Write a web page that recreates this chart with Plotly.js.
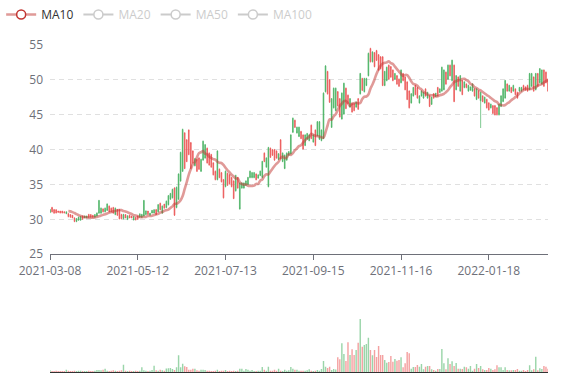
<!DOCTYPE html>
<html>
<head>
<meta charset="utf-8">
<script src="https://cdn.plot.ly/plotly-3.0.1.min.js"></script>
<style>
html,body{margin:0;padding:0;background:#fff;}
#chart{width:577px;height:380px;}
</style>
</head>
<body>
<div id="chart"></div>
<script>
// ---- data ----
const startDate = '2021-03-08';
const closedDays = ['2021-04-05','2021-05-03','2021-05-04','2021-05-05','2021-06-14',
  '2021-07-29','2021-08-19','2021-09-03','2021-10-01','2021-12-24','2022-01-03'];
const tickLabels = ['2021-03-08','2021-05-12','2021-07-13','2021-09-15','2021-11-16','2022-01-18'];
const legendNames = ['MA10','MA20','MA50','MA100'];

const openPrices = [
31.4,31.1,30.9,30.9,31.0,30.9,30.9,30.9,31.1,30.4,
30.3,30.2,29.7,30.1,30.3,30.4,30.0,30.5,30.5,30.3,
30.3,30.3,30.7,30.9,32.7,31.6,31.1,31.6,32.2,31.1,
31.1,30.9,31.6,30.6,30.1,30.1,30.7,30.2,30.5,30.2,
30.2,30.4,29.9,30.0,30.8,30.7,32.7,31.2,30.7,30.9,
31.3,31.4,30.7,32.1,31.4,31.9,31.6,32.6,33.4,33.7,
34.3,30.6,34.6,36.5,39.6,42.9,37.3,38.3,39.3,37.3,
38.1,38.7,36.9,37.2,38.6,41.2,40.7,38.1,37.8,37.5,
36.4,35.7,39.8,36.0,35.4,33.1,36.9,34.9,35.1,34.7,
33.0,36.3,34.5,35.2,35.2,35.2,35.5,36.0,36.9,36.7,
36.7,35.7,36.4,36.9,38.3,38.3,38.8,40.3,38.9,39.2,
38.5,38.8,39.4,38.7,39.5,39.2,39.5,39.7,42.1,44.5,
43.2,43.2,43.2,41.6,40.1,42.1,42.3,42.1,41.6,42.1,
40.6,44.0,44.0,42.8,48.1,52.0,48.0,46.8,47.3,48.8,
48.8,46.3,44.7,48.1,49.5,45.9,46.6,47.3,45.4,45.6,
46.8,45.8,50.9,48.5,50.2,50.2,53.8,52.6,54.0,51.9,
52.8,51.4,51.6,49.2,51.2,51.8,50.1,50.4,49.9,50.9,
49.4,49.1,51.4,49.9,48.6,47.2,46.0,48.0,48.9,47.9,
47.4,47.7,48.4,48.2,47.7,48.2,46.2,47.5,47.4,48.1,
47.7,48.7,51.8,51.4,49.4,52.1,50.6,52.8,46.9,50.6,
49.1,50.6,47.9,49.7,48.9,49.2,49.0,49.4,47.7,48.7,
47.4,48.2,46.9,47.5,46.0,45.7,46.5,45.2,45.0,45.0,
46.5,47.7,48.7,49.9,48.4,49.2,48.2,49.2,47.9,47.4,
48.9,48.9,48.6,48.5,48.4,50.9,50.9,48.4,50.9,49.1,
51.6,51.4,49.1,49.6,48.4];

const highPrices = [
31.5,31.8,31.5,31.4,31.2,31.2,31.2,31.1,31.1,30.9,
30.7,30.6,30.3,30.2,30.4,30.5,30.5,30.5,30.5,30.8,
30.7,30.6,30.7,31.0,32.8,31.7,31.6,31.7,32.3,32.0,
31.7,31.8,31.7,31.5,31.5,30.8,30.8,30.7,30.6,30.6,
30.5,30.4,30.3,30.5,30.8,30.8,32.8,31.3,31.2,30.9,
31.3,31.4,31.5,32.2,32.4,32.0,32.2,32.7,33.5,33.8,
34.4,34.6,34.7,36.6,39.7,43.0,42.5,41.5,42.9,41.1,
39.9,38.8,38.7,38.9,38.7,41.3,40.8,40.3,39.6,39.4,
38.2,37.0,39.9,37.3,36.8,35.8,37.0,36.7,36.5,36.1,
35.6,36.4,36.1,35.3,35.3,35.3,35.6,36.1,37.0,36.8,
36.8,36.6,36.4,37.0,38.4,39.6,38.9,40.4,40.3,40.1,
40.1,39.9,39.5,41.5,39.6,39.3,39.6,39.8,42.2,44.6,
44.3,43.3,43.3,42.7,42.2,42.2,42.4,42.2,43.6,42.2,
42.9,44.1,44.1,42.9,48.2,52.1,51.3,50.1,47.4,48.9,
48.9,48.4,47.4,48.2,49.6,48.9,47.9,47.4,46.7,46.7,
46.9,47.4,51.0,50.3,50.3,50.3,53.9,54.6,54.1,54.0,
54.3,53.7,53.4,53.4,51.3,51.9,52.2,52.0,51.5,51.0,
50.7,50.2,51.5,51.0,50.5,49.8,48.5,48.1,49.0,49.3,
49.0,47.8,48.5,48.3,48.8,48.3,47.8,47.6,48.1,48.1,
49.0,48.8,51.9,51.5,51.2,52.2,52.2,52.9,52.2,50.7,
50.5,50.7,50.0,49.8,49.5,49.3,49.0,49.5,48.8,48.8,
48.5,48.3,47.8,47.6,47.3,46.8,46.6,46.4,46.4,46.1,
46.6,47.8,48.8,50.0,49.5,49.3,49.0,49.3,48.8,48.3,
49.0,49.0,49.3,49.0,49.3,51.0,51.0,50.5,51.0,51.0,
51.7,51.5,51.5,51.2,50.2];

const lowPrices = [
30.9,31.0,30.8,30.9,31.0,30.9,30.9,30.9,30.8,30.3,
30.3,30.2,29.6,29.6,29.8,29.8,30.0,30.2,30.2,30.2,
30.3,30.3,30.3,30.4,30.8,30.8,31.0,31.0,31.2,31.0,
31.0,30.8,30.6,30.5,30.0,30.0,30.0,30.2,29.9,30.2,
30.2,29.9,29.9,30.0,30.3,30.2,30.4,30.6,30.7,30.6,
30.9,30.9,30.6,31.0,31.3,30.8,31.6,31.6,32.0,32.8,
33.0,30.5,31.6,32.8,35.4,36.8,37.2,38.2,39.2,37.2,
38.0,37.6,36.8,37.1,36.8,38.4,38.7,38.0,37.7,37.4,
36.3,35.6,35.6,35.9,35.3,33.0,34.6,34.8,35.0,34.6,
32.9,34.0,34.4,31.4,34.4,34.4,34.8,34.9,35.9,35.9,
35.9,35.6,35.9,36.2,35.9,38.2,37.4,34.6,38.8,39.1,
38.4,38.7,38.5,38.6,38.2,37.2,38.4,39.1,39.3,42.4,
43.1,42.3,41.8,41.5,40.0,40.5,41.4,41.2,41.5,41.0,
40.5,41.9,41.4,41.2,41.5,48.2,47.9,46.7,43.1,45.9,
45.5,46.2,44.6,44.3,45.0,45.8,46.5,46.0,45.3,45.5,
46.0,45.7,47.9,48.4,48.2,49.1,50.5,52.5,52.5,51.8,
52.7,51.3,51.5,49.1,49.1,49.8,50.0,50.3,49.8,50.0,
49.3,49.0,49.5,49.8,48.5,47.1,45.9,46.6,47.6,47.8,
47.3,46.6,47.6,47.3,47.6,47.3,46.1,46.4,47.3,47.6,
47.6,48.1,48.3,48.5,49.3,50.0,50.5,49.8,46.8,48.5,
49.0,48.3,47.8,48.8,48.8,48.3,48.5,48.3,47.6,47.1,
47.3,43.1,46.8,46.6,45.9,45.6,45.9,45.1,44.9,44.9,
44.9,46.1,46.8,47.3,48.3,48.3,48.1,48.3,47.8,47.3,
48.3,48.3,48.5,48.5,48.3,48.5,49.0,48.3,48.5,49.0,
49.5,49.3,49.0,49.5,48.3];

const closePrices = [
31.0,31.7,31.4,31.4,31.2,31.2,31.2,31.1,30.8,30.8,
30.7,30.6,30.2,29.7,29.9,29.9,30.5,30.2,30.2,30.7,
30.7,30.6,30.3,30.5,30.9,30.9,31.5,31.1,31.3,31.9,
31.6,31.7,30.7,31.4,31.4,30.7,30.1,30.7,30.0,30.6,
30.5,29.9,30.3,30.5,30.3,30.3,30.5,30.7,31.2,30.6,
30.9,30.9,31.4,31.1,32.3,30.9,32.2,31.7,32.1,32.9,
33.1,34.5,31.7,32.9,35.5,36.9,42.4,41.4,42.8,41.0,
39.8,37.7,38.6,38.8,36.9,38.5,38.8,40.2,39.5,39.3,
38.1,36.9,35.7,37.2,36.7,35.7,34.7,36.6,36.4,36.0,
35.5,34.1,36.0,31.5,34.5,34.5,34.9,35.0,36.0,36.0,
36.0,36.5,35.9,36.3,36.0,39.5,37.5,34.7,40.2,40.0,
40.0,39.8,38.6,41.4,38.3,37.3,38.5,39.2,39.4,42.5,
44.2,42.4,41.9,42.6,42.1,40.6,41.5,41.3,43.5,41.1,
42.8,42.0,41.5,41.3,41.6,48.3,51.2,50.0,43.2,46.0,
45.6,48.3,47.3,44.4,45.1,48.8,47.8,46.1,46.6,46.6,
46.1,47.3,48.0,50.2,48.3,49.2,50.6,54.5,52.6,53.9,
54.2,53.6,53.3,53.3,49.2,49.9,52.1,51.9,51.4,50.1,
50.6,50.1,49.6,50.9,50.4,49.7,48.4,46.7,47.7,49.2,
48.9,46.7,47.7,47.4,48.7,47.4,47.7,46.5,48.0,47.6,
48.9,48.2,48.4,48.6,51.1,50.1,52.1,49.9,52.1,48.6,
50.4,48.4,49.9,48.9,49.4,48.4,48.5,48.4,48.7,47.2,
48.4,47.0,47.7,46.7,47.2,46.7,46.0,46.3,46.3,46.0,
45.0,46.2,46.9,47.4,49.4,48.4,48.9,48.4,48.7,48.2,
48.4,48.4,49.2,49.0,49.2,48.6,49.1,50.4,48.6,50.9,
49.6,49.4,51.4,51.1,50.1];

const volumes = [
17,10,10,13,10,10,10,10,23,13,
10,10,13,10,13,13,10,10,10,13,
10,10,13,20,20,17,23,33,13,10,
13,17,13,10,13,17,73,13,10,13,
10,10,13,10,13,47,17,13,10,13,
20,63,17,13,23,17,13,35,37,40,
30,20,47,167,47,83,57,50,23,23,
33,33,17,13,23,23,20,13,13,10,
10,13,23,10,13,13,20,10,13,10,
13,10,13,33,33,13,30,23,13,20,
10,10,13,13,50,23,13,53,13,13,
23,13,33,13,10,23,13,17,50,33,
23,23,13,13,13,13,17,27,13,10,
13,20,13,30,110,53,40,53,20,30,
25,147,127,287,180,110,297,170,227,170,
220,293,530,253,270,280,343,220,167,220,
150,260,170,170,120,93,100,160,103,130,
113,120,147,47,87,200,187,33,50,50,
70,53,80,27,53,60,60,27,20,13,
30,30,230,87,27,137,80,107,60,90,
33,33,30,53,47,33,60,13,33,80,
40,60,27,20,20,40,33,20,27,67,
47,47,20,47,20,17,17,20,20,30,
13,13,20,10,20,67,17,27,153,17,
37,30,60,53,33];

// ---- helpers ----
function buildDates(start, count, closed) {
  const out = [];
  const d = new Date(start + 'T00:00:00Z');
  while (out.length < count) {
    const wd = d.getUTCDay();
    const s = d.toISOString().slice(0, 10);
    if (wd !== 0 && wd !== 6 && closed.indexOf(s) < 0) out.push(s);
    d.setUTCDate(d.getUTCDate() + 1);
  }
  return out;
}
function movingAverage(n) {
  return closePrices.map(function (_, i) {
    if (i < n - 1) return null;
    let s = 0;
    for (let k = i - n + 1; k <= i; k++) s += closePrices[k];
    return +(s / n).toFixed(3);
  });
}

const dates = buildDates(startDate, closePrices.length, closedDays);
const N = dates.length;

const UP = '#eb5454';
const DOWN = '#47b262';
const UP_VOL = 'rgba(235,84,84,0.55)';
const DOWN_VOL = 'rgba(71,178,98,0.55)';
const MA_COLOR = '#c23531';

const volColors = closePrices.map(function (c, i) { return c >= openPrices[i] ? UP_VOL : DOWN_VOL; });

// legend icon: circle drawn only in legend (first point colours), hidden on plot
const ma10 = movingAverage(10);
const hiddenFill = ma10.map(function (_, i) { return i === 0 ? '#ffffff' : 'rgba(0,0,0,0)'; });
const hiddenLine = ma10.map(function (_, i) { return i === 0 ? MA_COLOR : 'rgba(0,0,0,0)'; });

const traces = [
  {
    type: 'candlestick', x: dates, open: openPrices, high: highPrices, low: lowPrices, close: closePrices,
    xaxis: 'x', yaxis: 'y', showlegend: false, hoverinfo: 'skip', whiskerwidth: 0,
    increasing: { line: { color: UP, width: 0.7 }, fillcolor: UP },
    decreasing: { line: { color: DOWN, width: 0.7 }, fillcolor: DOWN }
  },
  {
    type: 'scatter', mode: 'lines+markers', name: legendNames[0], x: dates, y: ma10,
    xaxis: 'x', yaxis: 'y', hoverinfo: 'skip',
    line: { color: 'rgba(194,53,49,0.5)', width: 2.6, shape: 'spline', smoothing: 1 },
    marker: { symbol: 'circle', size: 9, color: hiddenFill, line: { color: hiddenLine, width: 1.5 } }
  }
];
[[20, legendNames[1]], [50, legendNames[2]], [100, legendNames[3]]].forEach(function (p) {
  traces.push({
    type: 'scatter', mode: 'lines+markers', visible: 'legendonly',
    name: '<span style="color:#999">' + p[1] + '</span>',
    x: dates, y: movingAverage(p[0]), xaxis: 'x', yaxis: 'y', hoverinfo: 'skip',
    line: { color: '#999', width: 2, shape: 'spline' },
    marker: { symbol: 'circle', size: 9, color: '#ffffff', line: { color: '#999', width: 1.5 } }
  });
});
traces.push({
  type: 'bar', x: dates, y: volumes, xaxis: 'x2', yaxis: 'y2', showlegend: false, hoverinfo: 'skip',
  marker: { color: volColors, line: { width: 0 } }
});

const layout = {
  width: 577, height: 380,
  margin: { l: 50, r: 29, t: 45, b: 8 },
  paper_bgcolor: '#ffffff', plot_bgcolor: '#ffffff',
  font: { family: '"Open Sans", "Noto Sans", sans-serif', size: 12, color: '#6e7079' },
  showlegend: true,
  hovermode: false,
  bargap: 0.3,
  boxgap: 0.5,
  legend: {
    orientation: 'h', xref: 'container', yref: 'container',
    x: 0.002, y: 1, xanchor: 'left', yanchor: 'top',
    font: { size: 12, color: '#333333' },
    itemwidth: 30,
    bgcolor: 'rgba(0,0,0,0)', borderwidth: 0
  },
  xaxis: {
    type: 'category', anchor: 'y', range: [0, N - 1],
    tickmode: 'array', tickvals: tickLabels, ticktext: tickLabels,
    ticks: 'outside', ticklen: 5, tickwidth: 1, tickcolor: '#6e7079',
    showline: true, linecolor: '#6e7079', linewidth: 1,
    showgrid: false, zeroline: false, rangeslider: { visible: false },
    tickfont: { size: 12, color: '#6e7079' }, fixedrange: true
  },
  yaxis: {
    domain: [0.36, 1], range: [25, 55], tick0: 25, dtick: 5,
    showgrid: true, gridcolor: '#e0e0e0', griddash: '5px,4px', gridwidth: 1,
    zeroline: false, showline: false, ticks: '', ticklabelstandoff: 6,
    tickfont: { size: 12, color: '#6e7079' }, fixedrange: true
  },
  xaxis2: {
    type: 'category', anchor: 'y2', matches: 'x', range: [0, N - 1],
    showticklabels: false, ticks: '', showline: true, linecolor: '#333333', linewidth: 1,
    showgrid: false, zeroline: false, rangeslider: { visible: false }, fixedrange: true
  },
  yaxis2: {
    domain: [0, 0.25], range: [0, 817],
    showticklabels: false, showgrid: false, zeroline: false, showline: false, ticks: '', fixedrange: true
  }
};

Plotly.newPlot('chart', traces, layout, { staticPlot: true, displayModeBar: false });
</script>
</body>
</html>
